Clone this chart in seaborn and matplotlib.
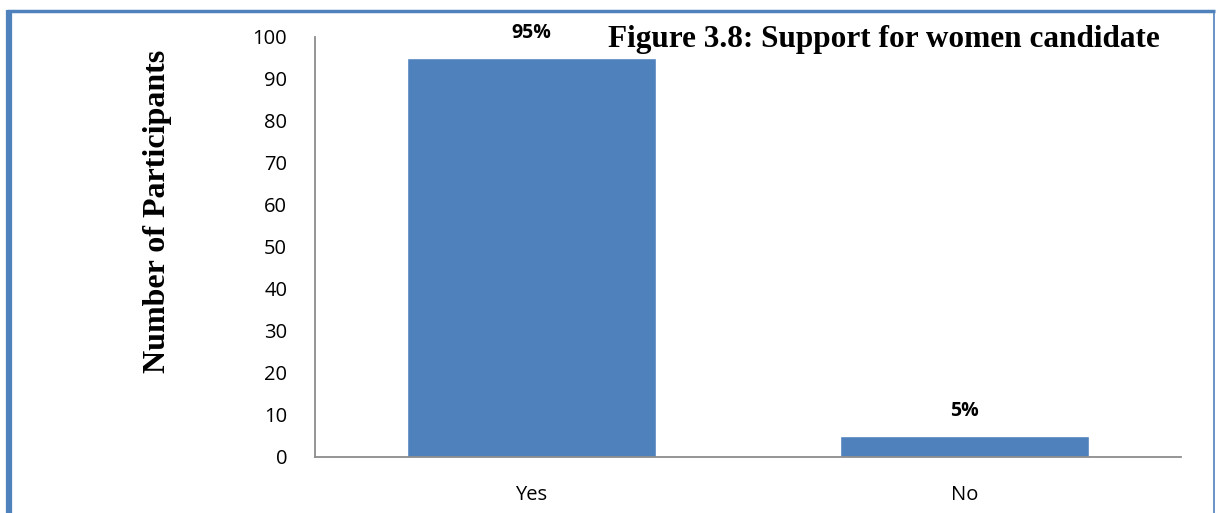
import matplotlib
matplotlib.use("Agg")
import matplotlib.pyplot as plt
import seaborn as sns
import pandas as pd
from matplotlib.lines import Line2D

categories = ["Yes", "No"]
values = [95, 5]
labels = ["95%", "5%"]
yticks = [0, 10, 20, 30, 40, 50, 60, 70, 80, 90, 100]

sns.set_theme(style="white")
plt.rcParams['font.family'] = ['Open Sans', 'DejaVu Sans']
plt.rcParams['text.color'] = 'black'

W, H = 1216, 513
fig = plt.figure(figsize=(W / 100, H / 100), dpi=100)
ax = fig.add_axes([315 / W, 1 - 457 / H, (1181 - 315) / W, (457 - 37) / H])

df = pd.DataFrame({"cat": categories, "val": values})
sns.barplot(data=df, x="cat", y="val", color="#4F81BD", saturation=1,
            width=0.573, ax=ax)
ax.set_ylim(0, 100)
ax.set_yticks(yticks)
ax.set_xlabel("")
ax.set_ylabel("")
ax.tick_params(axis="both", length=0, labelsize=14.5, colors="black")
ax.tick_params(axis="y", pad=20)
ax.tick_params(axis="x", pad=20)
for s in ["top", "right"]:
    ax.spines[s].set_visible(False)
for s in ["left", "bottom"]:
    ax.spines[s].set_color("#8C8C8C")
    ax.spines[s].set_linewidth(1.3)

for i, (v, lab) in enumerate(zip(values, labels)):
    ax.annotate(lab, (i, v), xytext=(0, 11), textcoords="offset points",
                ha="center", va="bottom", fontsize=14, fontweight="bold",
                color="black")

fig.text(1160 / W, 1 - 40 / H, "Figure 3.8: Support for women candidate",
         ha="right", va="center", fontsize=22.5, fontweight="bold",
         family="Liberation Serif", color="black")
fig.text(158 / W, 1 - 211 / H, "Number of Participants", rotation=90,
         ha="center", va="center", fontsize=23, fontweight="bold",
         family="Liberation Serif", color="black")

# blue frame
c = "#4F81BD"
fig.add_artist(Line2D([9 / W, 9 / W], [0, 1 - 9.5 / H], color=c, lw=4.5,
                      solid_capstyle="butt", transform=fig.transFigure))
fig.add_artist(Line2D([7 / W, 1214.5 / W], [1 - 10.5 / H, 1 - 10.5 / H], color=c,
                      lw=2.5, solid_capstyle="butt", transform=fig.transFigure))
fig.add_artist(Line2D([1213.5 / W, 1213.5 / W], [0, 1 - 10 / H], color=c, lw=1.2,
                      solid_capstyle="butt", transform=fig.transFigure))

fig.savefig("out.png", dpi=100)
